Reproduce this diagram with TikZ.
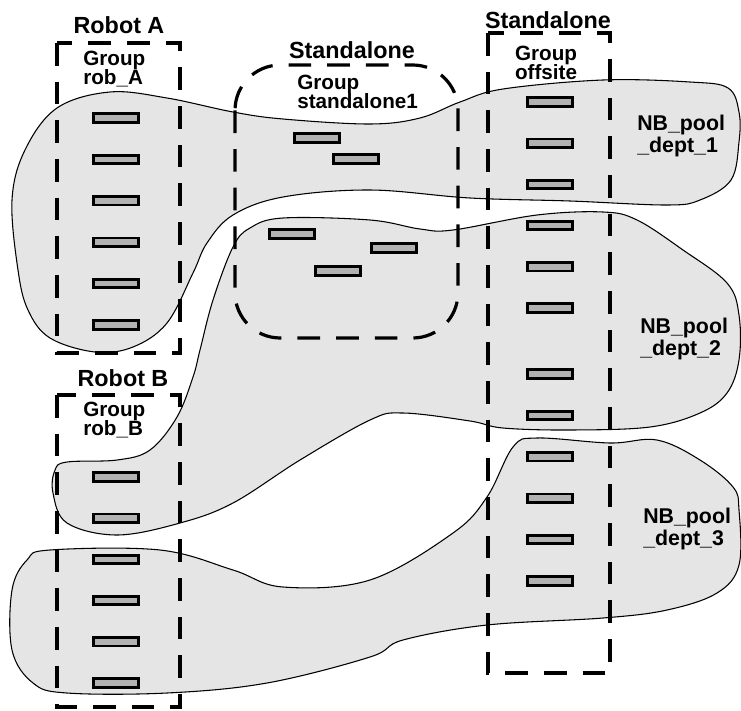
\documentclass[tikz,border=0pt]{standalone}
\usepackage{fontspec}
\setmainfont{Liberation Sans}
\usepackage{tikz}
\usepackage{xcolor}
\lineskiplimit=-20pt\relax

\begin{document}
\begin{tikzpicture}[x=0.75pt,y=-0.75pt,
      pool/.style={draw=black,line width=0.8pt,fill=gray!20},
      robot/.style={draw=black,line width=2.4pt,dash pattern=on 17pt off 12pt},
      slot/.style={draw=black,line width=2.2pt,fill=gray!60,minimum width=34pt,minimum height=6.3pt,inner sep=0pt},
      title/.style={font=\fontsize{17.5}{20}\selectfont\bfseries,inner sep=0pt},
      grp/.style={font=\fontsize{15.5}{14.2}\selectfont\bfseries,align=left,inner sep=0pt,anchor=north west},
      poolname/.style={font=\fontsize{16}{16.5}\selectfont\bfseries,align=left,inner sep=0pt,anchor=north west}]
    \useasboundingbox (0,0) rectangle (741,710);
    % storage pools
    \draw[pool] plot[smooth cycle,tension=0.6] coordinates {(110,92) (167,98) (233,112) (283,119) (370,124) (420,118) (460,102)
      (503,89) (603,80) (690,82) (728,88) (739,112) (739,142) (731,180) (700,200) (667,205) (570,201) (470,198) (370,190)
      (283,197) (233,215) (207,243) (193,273) (167,323) (133,347) (95,352) (50,338) (28,310) (18,270) (12,200) (25,150) (57,108)};
    \draw[pool] plot[smooth cycle,tension=0.6] coordinates {(233,247) (250,228) (283,218) (370,220) (420,229) (453,230) (537,215)
      (603,212) (637,220) (683,250) (727,283) (739,315) (739,360) (727,393) (700,413) (650,427) (570,430) (503,428) (470,421)
      (403,413) (370,420) (300,460) (233,503) (180,523) (117,535) (67,523) (53,493) (55,470) (67,462) (117,460) (150,450)
      (177,417) (193,377) (200,350) (213,300)};
    \draw[pool] plot[smooth cycle,tension=0.6] coordinates {(12,590) (27,560) (50,550) (160,550) (233,570) (283,587) (370,580)
      (453,533) (487,497) (513,447) (537,438) (610,443) (657,440) (700,460) (733,487) (739,510) (739,565) (717,593) (667,610)
      (603,618) (487,625) (403,640) (370,657) (267,683) (167,693) (67,693) (33,683) (12,650)};
    % groups
    \draw[robot] (57,43) rectangle (180,353);
    \draw[robot] (57,395) rectangle (180,707);
    \draw[robot] (488,33) rectangle (610,673);
    \draw[robot,rounded corners=34pt] (235,65) rectangle (458,338);
    \foreach \k in {0,...,5} {
      \node[slot] (slotA\k) at (116,118+41.4*\k) {};
      \node[slot] (slotB\k) at (116,477+41.2*\k) {};
      \node[slot] (slotO\k) at (550,102+41.2*\k) {};
      \node[slot] (slotP\k) at (550,374+41.4*\k) {};
    }
    \node[slot] (slotS0) at (317,138) {};
    \node[slot] (slotS1) at (356,159) {};
    \node[slot] (slotS2) at (292,234) {};
    \node[slot] (slotS3) at (394,248) {};
    \node[slot] (slotS4) at (338,271) {};
    % labels
    \node[title] (robA) at (119,25) {Robot A};
    \node[title] (robB) at (123,378) {Robot B};
    \node[title] (stand1) at (352,50) {Standalone};
    \node[title] (stand2) at (548,20) {Standalone};
    \node[grp] (grpA) at (83,51) {Group\\rob\_A};
    \node[grp] (grpB) at (83,402) {Group\\rob\_B};
    \node[grp] (grpS) at (297,75) {Group\\standalone1};
    \node[grp,align=center,anchor=north] (grpO) at (546,46) {Group\\offsite};
    \node[poolname] (pool1) at (637,115) {NB\_pool\\\_dept\_1};
    \node[poolname] (pool2) at (640,318) {NB\_pool\\\_dept\_2};
    \node[poolname] (pool3) at (643,508) {NB\_pool\\\_dept\_3};
  \end{tikzpicture}
\end{document}
